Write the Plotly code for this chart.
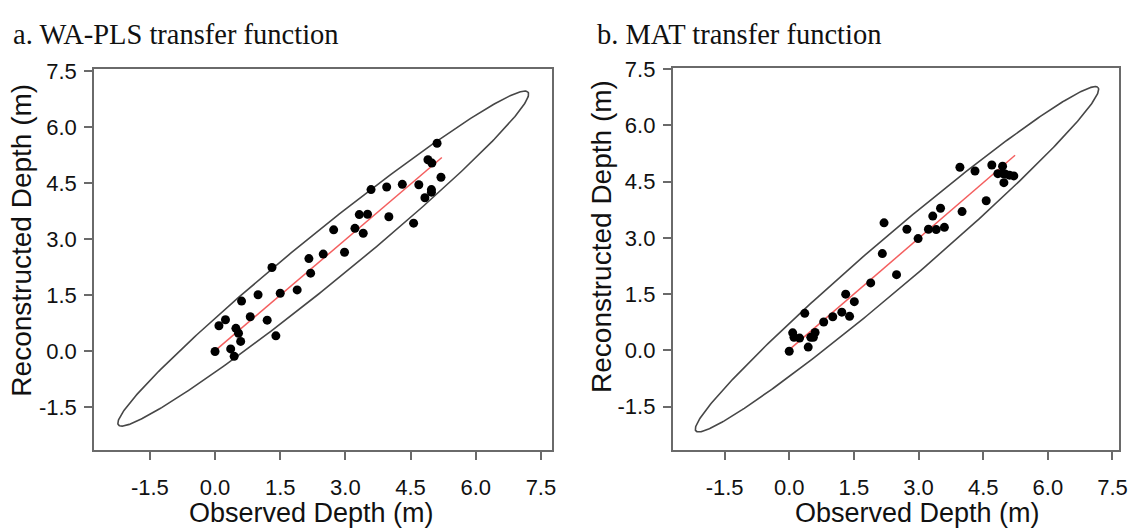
import numpy as np
import plotly.graph_objects as go

# ---------------- data ----------------
tick_vals = [-1.5, 0.0, 1.5, 3.0, 4.5, 6.0, 7.5]

wapls_obs = [0.00, 0.09, 0.24, 0.36, 0.44, 0.48, 0.54, 0.59, 0.61, 0.81, 0.99, 1.20, 1.31,
             1.40, 1.50, 1.89, 2.16, 2.20, 2.49, 2.73, 2.98, 3.22, 3.32, 3.41, 3.51, 3.59,
             3.95, 4.00, 4.31, 4.57, 4.69, 4.83, 4.90, 4.98, 4.98, 4.99, 5.11, 5.20]
wapls_rec = [-0.01, 0.68, 0.84, 0.06, -0.14, 0.61, 0.48, 0.26, 1.34, 0.92, 1.51, 0.83, 2.24,
             0.41, 1.55, 1.64, 2.48, 2.09, 2.60, 3.25, 2.65, 3.29, 3.66, 3.16, 3.67, 4.33,
             4.40, 3.60, 4.47, 3.43, 4.46, 4.11, 5.13, 4.33, 4.26, 5.04, 5.57, 4.66]

mat_obs = [0.00, 0.08, 0.11, 0.24, 0.36, 0.44, 0.50, 0.56, 0.60, 0.80, 1.01, 1.22, 1.31,
           1.40, 1.51, 1.89, 2.16, 2.20, 2.49, 2.73, 2.99, 3.23, 3.33, 3.41, 3.51, 3.60,
           3.96, 4.01, 4.31, 4.57, 4.70, 4.84, 4.95, 4.96, 4.98, 5.01, 5.11, 5.21]
mat_rec = [-0.02, 0.47, 0.35, 0.33, 0.99, 0.09, 0.35, 0.35, 0.48, 0.76, 0.90, 1.02, 1.50,
           0.91, 1.30, 1.80, 2.58, 3.40, 2.02, 3.23, 2.98, 3.23, 3.58, 3.22, 3.79, 3.28,
           4.88, 3.70, 4.78, 3.99, 4.94, 4.71, 4.91, 4.71, 4.47, 4.70, 4.67, 4.65]

# fitted lines (endpoints)
wapls_fit_x = [0.05, 5.22]
wapls_fit_y = [0.06, 5.19]
mat_fit_x = [0.05, 5.24]
mat_fit_y = [0.07, 5.20]

# confidence ellipses: centre x, centre y, semi-major, semi-minor, angle (deg)
wapls_ellipse = [2.49, 2.48, 6.49, 0.62, 43.5]
mat_ellipse = [2.50, 2.43, 6.534, 0.60, 44.5]


def ellipse_xy(params, n=400):
    cx, cy, a, b, ang = params
    t = np.linspace(0, 2 * np.pi, n)
    th = np.deg2rad(ang)
    x = cx + a * np.cos(t) * np.cos(th) - b * np.sin(t) * np.sin(th)
    y = cy + a * np.cos(t) * np.sin(th) + b * np.sin(t) * np.cos(th)
    return x, y


W, H = 1143, 529
fig = go.Figure()

panels = [
    dict(obs=wapls_obs, rec=wapls_rec, fx=wapls_fit_x, fy=wapls_fit_y, ell=wapls_ellipse,
         xa="x", ya="y"),
    dict(obs=mat_obs, rec=mat_rec, fx=mat_fit_x, fy=mat_fit_y, ell=mat_ellipse,
         xa="x2", ya="y2"),
]

for p in panels:
    ex, ey = ellipse_xy(p["ell"])
    fig.add_trace(go.Scatter(x=ex, y=ey, mode="lines", xaxis=p["xa"], yaxis=p["ya"],
                             line=dict(color="#474747", width=1.6), hoverinfo="skip",
                             showlegend=False))
    fig.add_trace(go.Scatter(x=p["fx"], y=p["fy"], mode="lines", xaxis=p["xa"], yaxis=p["ya"],
                             line=dict(color="#f45f5f", width=1.5), showlegend=False))
    fig.add_trace(go.Scatter(x=p["obs"], y=p["rec"], mode="markers", xaxis=p["xa"],
                             yaxis=p["ya"], marker=dict(color="black", size=9),
                             showlegend=False))

tickfont = dict(family="Liberation Sans, Arial, sans-serif", size=22, color="#111")
axis_common = dict(tickvals=tick_vals, ticktext=[f"{v:.1f}" for v in tick_vals],
                   showgrid=False, zeroline=False, showline=True, linecolor="#6a6a6a",
                   linewidth=2, mirror=True, ticks="outside", ticklen=8, tickwidth=1.6,
                   tickcolor="#6a6a6a", tickfont=tickfont)


def px_x(v):
    return v / W


def px_y(v):
    return 1 - v / H


fig.update_layout(
    width=W, height=H, margin=dict(l=0, r=0, t=0, b=0),
    paper_bgcolor="white", plot_bgcolor="white",
    xaxis=dict(domain=[px_x(95), px_x(556.6)], range=[-2.78, 7.76], anchor="y",
               ticklabelstandoff=9, **axis_common),
    yaxis=dict(domain=[px_y(448.3), px_y(59.3)], range=[-2.65, 7.56], anchor="x",
               ticklabelstandoff=3, **axis_common),
    xaxis2=dict(domain=[px_x(678.2), px_x(1127.4)], range=[-2.70, 7.64], anchor="y2",
                ticklabelstandoff=9, **axis_common),
    yaxis2=dict(domain=[px_y(447.9), px_y(58)], range=[-2.64, 7.53], anchor="x2",
                ticklabelstandoff=3, **axis_common),
)

title_font = dict(family="Liberation Serif, Times New Roman, serif", size=28.5, color="#111")
label_font = dict(family="Liberation Sans, Arial, sans-serif", size=27, color="#111")
ylabel_font = dict(family="Liberation Sans, Arial, sans-serif", size=28, color="#111")

annots = [
    dict(text="a. WA-PLS transfer function", x=px_x(12), y=px_y(24), xanchor="left",
         yanchor="middle", font=title_font),
    dict(text="b. MAT transfer function", x=px_x(601), y=px_y(24), xanchor="left",
         yanchor="middle", font=title_font),
    dict(text="Observed Depth (m)", x=px_x(314), y=px_y(512.5), xanchor="center",
         yanchor="middle", font=label_font),
    dict(text="Observed Depth (m)", x=px_x(924.5), y=px_y(512.5), xanchor="center",
         yanchor="middle", font=label_font),
    dict(text="Reconstructed Depth (m)", x=px_x(21.5), y=px_y(234.2), xanchor="center",
         yanchor="middle", textangle=-90, font=ylabel_font),
    dict(text="Reconstructed Depth (m)", x=px_x(606), y=px_y(230.5), xanchor="center",
         yanchor="middle", textangle=-90, font=ylabel_font),
]
for a in annots:
    fig.add_annotation(xref="paper", yref="paper", showarrow=False, borderpad=0, **a)

fig.write_html(
    "out.html",
    config={"displayModeBar": False},
    post_script="document.body.style.margin='0px';document.body.style.padding='0px';"
                "document.body.style.overflow='hidden';",
)
